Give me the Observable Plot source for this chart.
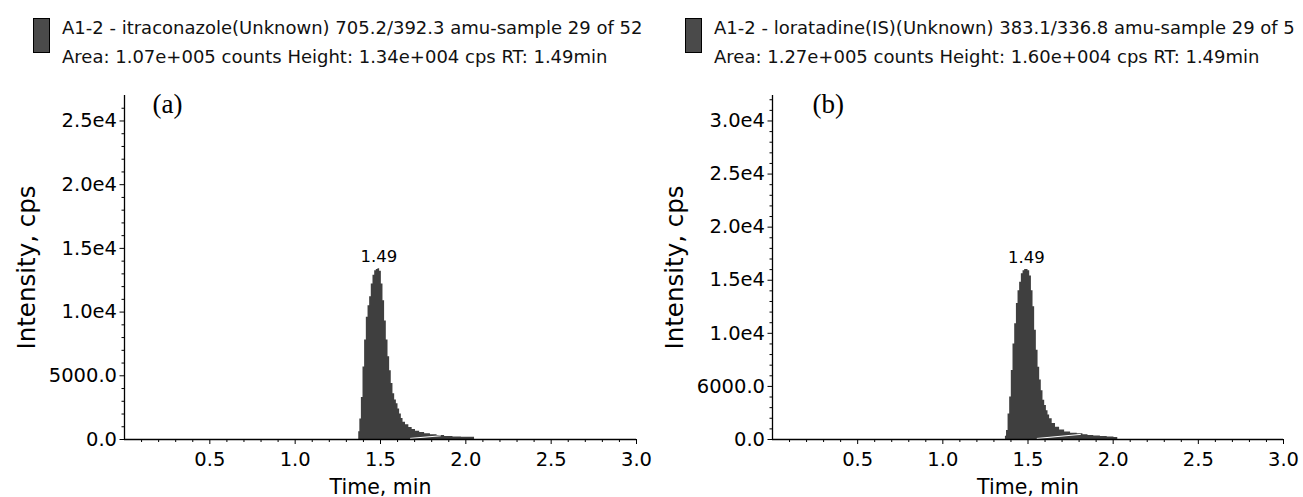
<!DOCTYPE html>
<html>
<head>
<meta charset="utf-8">
<script src="https://cdn.jsdelivr.net/npm/d3@7"></script>
<script src="https://cdn.jsdelivr.net/npm/@observablehq/plot@0.6"></script>
<style>
  html, body { margin: 0; padding: 0; background: #fff; }
  body { width: 1303px; height: 497px; overflow: hidden; position: relative; font-family: "DejaVu Sans", sans-serif; }
  .panel { position: absolute; top: 0; }
  .head { position: relative; height: 75px; }
  .sw { position: absolute; width: 15px; height: 33px; background: #4a4a4a; border: 1px solid #000; }
  .l1, .l2 { position: absolute; font-size: 18px; color: #111; white-space: nowrap; line-height: 1; }
  svg { display: block; overflow: visible; }
</style>
</head>
<body>
<div id="pa" class="panel" style="left:0px; width:651px;"></div>
<div id="pb" class="panel" style="left:648px; width:655px;"></div>
<script>
// ---------- data ----------
const titleA = "A1-2 - itraconazole(Unknown) 705.2/392.3 amu-sample 29 of 52";
const infoA = "Area: 1.07e+005 counts Height: 1.34e+004 cps RT: 1.49min";
const titleB = "A1-2 - loratadine(IS)(Unknown) 383.1/336.8 amu-sample 29 of 5";
const infoB = "Area: 1.27e+005 counts Height: 1.60e+004 cps RT: 1.49min";

const xTicks = [0.5, 1.0, 1.5, 2.0, 2.5, 3.0];
const xTickLabels = ["0.5", "1.0", "1.5", "2.0", "2.5", "3.0"];
const xMinor = [0.1,0.2,0.3,0.4,0.6,0.7,0.8,0.9,1.1,1.2,1.3,1.4,1.6,1.7,1.8,1.9,2.1,2.2,2.3,2.4,2.6,2.7,2.8,2.9];
const xTitle = "Time, min";
const yTitle = "Intensity, cps";

const yTicksA = [0, 5000, 10000, 15000, 20000, 25000];
const yTickLabelsA = ["0.0", "5000.0", "1.0e4", "1.5e4", "2.0e4", "2.5e4"];
const yMinorA = [1000,2000,3000,4000,6000,7000,8000,9000,11000,12000,13000,14000,16000,17000,18000,19000,21000,22000,23000,24000,26000];
const yMaxA = 27000;

const yTicksB = [0, 5000, 10000, 15000, 20000, 25000, 30000];
const yTickLabelsB = ["0.0", "6000.0", "1.0e4", "1.5e4", "2.0e4", "2.5e4", "3.0e4"];
const yMinorB = [1000,2000,3000,4000,6000,7000,8000,9000,11000,12000,13000,14000,16000,17000,18000,19000,21000,22000,23000,24000,26000,27000,28000,29000,31000,32000];
const yMaxB = 32400;

// chromatogram A (itraconazole)
const timeA = [1.370,1.375,1.383,1.393,1.402,1.412,1.422,1.432,1.441,1.451,1.461,1.471,1.480,1.490,1.500,1.510,1.519,1.529,1.539,1.549,1.558,1.568,1.578,1.588,1.598,1.607,1.617,1.627,1.637,1.656,1.676,1.695,1.715,1.744,1.773,1.812,1.851,1.900,1.949,2.000,2.047,2.055];
const intA  = [0,600,1600,3300,5700,7800,9600,10500,11200,12200,12900,13250,13350,13400,13200,12200,10900,9300,7800,6500,5400,4400,3600,3100,2800,2400,2000,1650,1350,1150,950,780,650,540,450,370,310,240,190,180,170,0];
const baseTimeA = [1.676, 1.851];
const baseIntA = [90, 290];

// chromatogram B (loratadine IS)
const timeB = [1.365,1.370,1.378,1.388,1.397,1.407,1.417,1.427,1.437,1.446,1.456,1.466,1.476,1.485,1.495,1.505,1.515,1.525,1.534,1.544,1.554,1.564,1.573,1.583,1.593,1.603,1.613,1.622,1.632,1.652,1.671,1.700,1.730,1.770,1.808,1.837,1.867,1.905,1.945,1.985,2.024,2.030];
const intB  = [0,300,850,2400,4000,6500,9000,10900,12800,14000,14800,15600,15900,16000,16000,15900,15400,14000,12500,10300,8400,6800,5600,4600,3700,3200,2700,2300,1950,1500,1150,900,700,600,530,450,380,320,280,240,200,0];
const baseTimeB = [1.554, 1.808];
const baseIntB = [100, 480];

const peakTime = [1.49];
const peakLabel = ["1.49"];
const peakHeightA = [13400];
const peakHeightB = [16000];

// ---------- drawing ----------
function header(el, title, info, left) {
  const h = document.createElement("div");
  h.className = "head";
  h.innerHTML = `<div class="sw" style="left:${left - 29}px; top:18px;"></div>
    <div class="l1" style="left:${left}px; top:19px;">${title}</div>
    <div class="l2" style="left:${left}px; top:48px;">${info}</div>`;
  el.appendChild(h);
}

function panel(el, opts) {
  const {time, ints, bT, bI, yMax, yTicks, yLabels, yMinor, peakH, letter, width, mr, letterDx} = opts;
  const data = time.map((t, i) => ({t, v: ints[i]}));
  const base = bT.map((t, i) => ({t, v: bI[i]}));
  const peak = peakTime.map((t, i) => ({t, v: peakH[i], s: peakLabel[i]}));
  const yMap = new Map(yTicks.map((d, i) => [d, yLabels[i]]));
  const xMap = new Map(xTicks.map((d, i) => [d, xTickLabels[i]]));
  const chart = Plot.plot({
    width, height: 422,
    marginTop: 20, marginBottom: 58, marginLeft: 124, marginRight: mr,
    style: {fontFamily: "'DejaVu Sans', sans-serif", fontSize: "19px", color: "#000", background: "transparent", overflow: "visible"},
    x: {domain: [0, 3]},
    y: {domain: [0, yMax]},
    marks: [
      Plot.areaY(data, {x: "t", y: "v", curve: "step", fill: "#3f3f3f"}),
      Plot.lineY(base, {x: "t", y: "v", stroke: "#fff", strokeWidth: 1}),
      Plot.ruleX([0], {stroke: "#000", strokeWidth: 1.3}),
      Plot.ruleY([0], {stroke: "#000", strokeWidth: 1.3}),
      Plot.axisX({ticks: xMinor, tickSize: 3, tickFormat: () => "", label: null, stroke: "#000"}),
      Plot.axisX({ticks: xTicks, tickSize: 5, tickPadding: 8, tickFormat: d => xMap.get(d), label: null, fontSize: 19.5, stroke: "#000", fill: "#000"}),
      Plot.axisY({ticks: yMinor, tickSize: 2.5, tickFormat: () => "", label: null, stroke: "#000"}),
      Plot.axisY({ticks: yTicks, tickSize: 4.5, tickPadding: 3, tickFormat: d => yMap.get(d), label: null, fontSize: 19.5, stroke: "#000", fill: "#000"}),
      Plot.text([xTitle], {frameAnchor: "bottom", textAnchor: "middle", lineAnchor: "middle", dy: 48, fontSize: 20.5, fill: "#000"}),
      Plot.text([yTitle], {frameAnchor: "left", textAnchor: "middle", lineAnchor: "middle", rotate: -90, dx: -97, fontSize: 24.5, fill: "#000"}),
      Plot.text(peak, {x: "t", y: "v", text: "s", dy: -12, fontSize: 16.5, fill: "#000"}),
      Plot.text([letter], {frameAnchor: "top-left", dx: letterDx, dy: -2, fontFamily: "'Liberation Serif', serif", fontSize: 27, fill: "#000", textAnchor: "start", lineAnchor: "top"})
    ]
  });
  el.appendChild(chart);
}

const pa = document.getElementById("pa");
header(pa, titleA, infoA, 62);
panel(pa, {time: timeA, ints: intA, bT: baseTimeA, bI: baseIntA, yMax: yMaxA, yTicks: yTicksA, yLabels: yTickLabelsA, yMinor: yMinorA, peakH: peakHeightA, letter: "(a)", width: 651, mr: 15, letterDx: 28});

const pb = document.getElementById("pb");
header(pb, titleB, infoB, 66);
panel(pb, {time: timeB, ints: intB, bT: baseTimeB, bI: baseIntB, yMax: yMaxB, yTicks: yTicksB, yLabels: yTickLabelsB, yMinor: yMinorB, peakH: peakHeightB, letter: "(b)", width: 652, mr: 17, letterDx: 40});
</script>
</body>
</html>
